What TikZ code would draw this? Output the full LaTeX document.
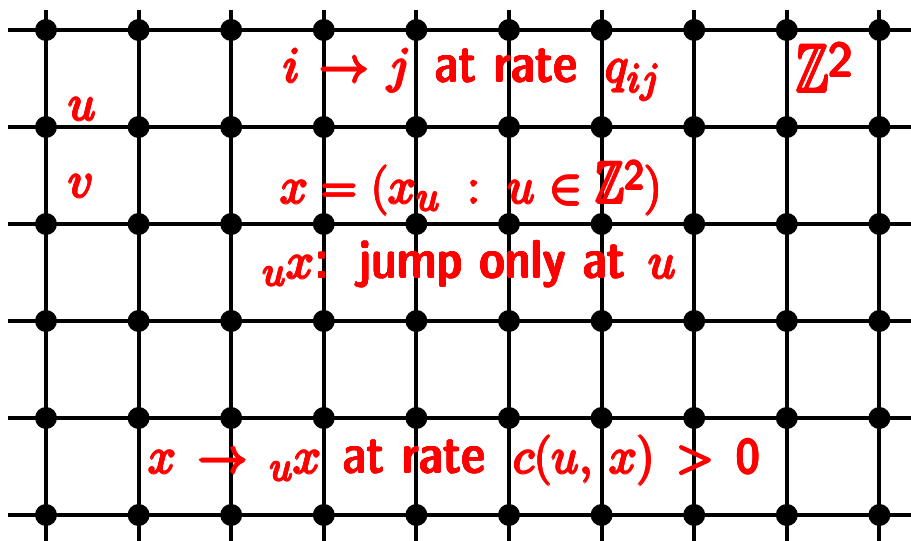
\documentclass[tikz,border=0pt]{standalone}
\usepackage{amsmath,amssymb}
\usepackage{graphicx}
\usepackage{xcolor}
\definecolor{txtred}{RGB}{255,0,0}
\newsavebox\fatbox
\newlength\fatd
\newcommand{\fat}[2][0.55bp]{\setlength\fatd{#1}\sbox\fatbox{#2}%
  \rlap{\kern\fatd\usebox\fatbox}%
  \rlap{\kern-\fatd\usebox\fatbox}%
  \rlap{\raise\fatd\hbox{\usebox\fatbox}}%
  \rlap{\lower\fatd\hbox{\usebox\fatbox}}%
  \rlap{\kern.7\fatd\raise.7\fatd\hbox{\usebox\fatbox}}%
  \rlap{\kern-.7\fatd\raise.7\fatd\hbox{\usebox\fatbox}}%
  \rlap{\kern.7\fatd\lower.7\fatd\hbox{\usebox\fatbox}}%
  \rlap{\kern-.7\fatd\lower.7\fatd\hbox{\usebox\fatbox}}%
  \usebox\fatbox}
\newcommand{\bbZ}{\mathord{\scalebox{0.72}[1]{$\mathbb{Z}$}}}
\newcommand{\sqtwo}{^{\lower0.18em\hbox{$\scriptstyle\mathsf{2}$}}}
\newcommand{\mth}[1]{\fat{$#1$}}
\begin{document}
\begin{tikzpicture}[x=0.5bp,y=-0.5bp,
  gridline/.style={line width=2bp,black},
  vdot/.style={circle,fill=black,inner sep=0pt,minimum size=11bp},
  lbl/.style={text=txtred,inner sep=0pt,anchor=base west,font=\fontsize{29.5}{34}\selectfont},
  wrd/.style={text=txtred,inner sep=0pt,anchor=base west,font=\fontsize{26.8}{32}\fontseries{sbc}\sffamily\selectfont}]
\useasboundingbox (0,0) rectangle (911,541);
\foreach \r/\yy in {0/30,1/127,2/224,3/321,4/418,5/515}{
  \coordinate (hl\r) at (8,\yy);
  \coordinate (hr\r) at (911,\yy);
  \draw[gridline] (hl\r) -- (hr\r);
}
\foreach \c/\xx in {0/46,1/138.6,2/231.2,3/323.8,4/416.4,5/509,6/601.6,7/694.2,8/786.8,9/879.4}{
  \coordinate (vt\c) at (\xx,10);
  \coordinate (vb\c) at (\xx,541);
  \draw[gridline] (vt\c) -- (vb\c);
  \foreach \r/\yy in {0/30,1/127,2/224,3/321,4/418,5/515}{
    \node[vdot] (d\c-\r) at (\xx,\yy) {};
  }
}
\node[lbl] (lu) at (68,120) {\mth{u}};
\node[lbl] (lv) at (68,197) {\mth{v}};
% line 1
\node[lbl] (l1a) at (283,82) {\mth{i\mkern2mu\to\mkern2mu j}};
\node[wrd] (l1b) at (434,82) {\fat[0.2bp]{at rate}};
\node[lbl] (l1c) at (605,82) {\mth{q_{ij}}};
% Z^2
\node[lbl,font=\fontsize{34}{40}\selectfont] (lz) at (796,92) {\mth{\bbZ\sqtwo}};
% line 2
\node[lbl] (l2) at (280,203) {\mth{x=(x_u\;:\;u\in\bbZ\sqtwo)}};
% line 3
\node[lbl] (l3a) at (262,278) {\mth{{}_ux}};
\node[wrd,anchor=base west] (l3b) at (l3a.base east) {\fat[0.2bp]{:}};
\node[wrd] (l3c) at (358,278) {\fat[0.2bp]{jump only at}};
\node[lbl] (l3d) at (648,278) {\mth{u}};
% line 4
\node[lbl] (l4a) at (148,473) {\mth{x\,\to\,{}_ux}};
\node[wrd] (l4b) at (342,473) {\fat[0.2bp]{at rate}};
\node[lbl] (l4c) at (513,473) {\mth{c(u,\,x)\,>\,\mathsf{0}}};
\end{tikzpicture}
\end{document}
